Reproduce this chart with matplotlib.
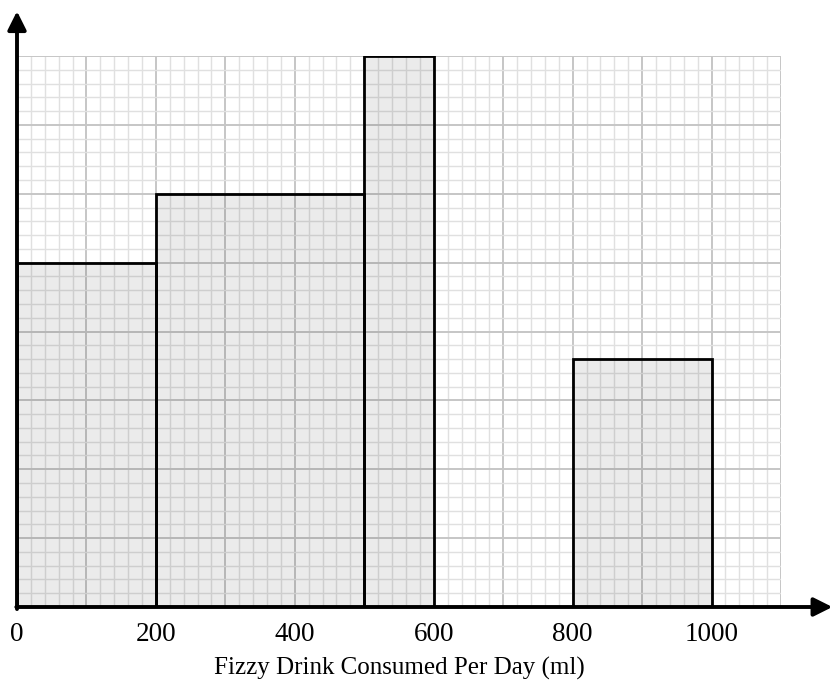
import matplotlib
matplotlib.use("Agg")
import matplotlib.pyplot as plt
import numpy as np

# class boundaries (ml) and frequency density (grid squares)
bin_left = [0, 200, 500, 800]
bin_right = [200, 500, 600, 1000]
density = [5, 6, 8, 3.6]

tick_vals = [0, 200, 400, 600, 800, 1000]
x_label = "Fizzy Drink Consumed Per Day (ml)"

plt.rcParams["font.family"] = ["Liberation Serif", "DejaVu Serif"]

fig = plt.figure(figsize=(8.32, 6.85), dpi=100)
ax = fig.add_axes([17 / 832, 78 / 685, 764 / 832, 551 / 685])
ax.set_xlim(0, 1100)
ax.set_ylim(0, 8)

# graph paper grid
ax.set_xticks(np.arange(0, 1101, 100))
ax.set_xticks(np.arange(0, 1101, 20), minor=True)
ax.set_yticks(np.arange(0, 9, 1))
ax.set_yticks(np.arange(0, 8.01, 0.2), minor=True)
ax.grid(which="minor", color="#e0e0e0", linewidth=1.0, zorder=0)
ax.grid(which="major", color="#c6c6c6", linewidth=1.4, zorder=0)
ax.set_axisbelow(True)

labels = [str(v) if v in tick_vals else "" for v in range(0, 1101, 100)]
ax.set_xticklabels(labels, fontsize=19.5)
ax.set_yticklabels([])
ax.tick_params(which="both", length=0)
ax.tick_params(axis="x", pad=11)

widths = [r - l for l, r in zip(bin_left, bin_right)]
ax.bar(bin_left, density, width=widths, align="edge",
       facecolor=(0, 0, 0, 0.08), edgecolor="black", linewidth=2.0, zorder=3)

for s in ax.spines.values():
    s.set_visible(False)

arrow = dict(arrowstyle="-|>", color="black", lw=2.8, mutation_scale=28,
             shrinkA=0, shrinkB=0)
ax.annotate("", xy=(1174, 0), xytext=(-1, 0), arrowprops=arrow,
            annotation_clip=False, zorder=5)
ax.annotate("", xy=(0, 8.65), xytext=(0, -0.03), arrowprops=arrow,
            annotation_clip=False, zorder=5)

ax.set_xlabel(x_label, fontsize=18, labelpad=7)

fig.savefig("out.png", dpi=100)
